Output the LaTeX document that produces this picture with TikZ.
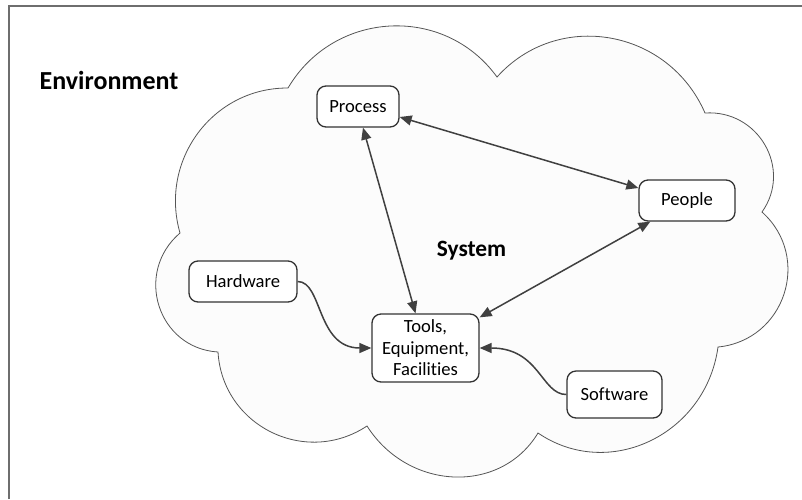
\documentclass[tikz,border=0pt]{standalone}
\usepackage{fontspec}
\setmainfont{Carlito}[Ligatures=NoCommon]
\usetikzlibrary{positioning}
\usetikzlibrary{arrows.meta}
\definecolor{edgegray}{HTML}{404040}
\definecolor{cloudline}{HTML}{555555}
\definecolor{cloudfill}{HTML}{FCFCFC}
\definecolor{framegray}{HTML}{6E6E6E}

\begin{document}
\begin{tikzpicture}[x=1pt,y=-1pt,
  part/.style={draw=black!80,line width=1.3pt,rounded corners=9pt,fill=white,font=\fontsize{18.6}{21.5}\selectfont,minimum height=41pt,inner sep=2pt,align=center},
  link/.style={draw=edgegray,line width=1.5pt,{Triangle[length=12pt,width=10pt]}-{Triangle[length=12pt,width=10pt]}},
  feed/.style={draw=edgegray,line width=1.5pt,-{Triangle[length=12pt,width=10pt]}}]
\useasboundingbox (0,0) rectangle (802,499);
\draw[framegray,line width=1.5pt] (9,499) -- (9,6) -- (802,6);
\draw[cloudline,fill=cloudfill,line width=0.8pt] (288,88) .. controls (334,10.1) and (444.4,4.3) .. (497,77)
  .. controls (557.7,9.4) and (668.3,28.6) .. (705,113)
  .. controls (758.4,109.5) and (792.6,168.9) .. (762,212)
  .. controls (812.3,257.2) and (785.1,340.4) .. (718,347)
  .. controls (705.9,434.8) and (608.7,481.2) .. (538,433)
  .. controls (500.7,494.7) and (408.3,490.9) .. (367,426)
  .. controls (305.2,466.9) and (222.4,425.7) .. (218,352)
  .. controls (157.8,348.3) and (133.6,272.7) .. (180,233)
  .. controls (159,160) and (213,87.6) .. (288,88) -- cycle;

\node[font=\fontsize{26}{30}\selectfont\bfseries] (env) at (109,80) {Environment};
\node[font=\fontsize{23.4}{27}\selectfont\bfseries] (sys) at (471.5,251) {System};

\node[part,minimum width=82pt] (proc) at (358,106.5) {Process};
\node[part,minimum width=96pt] (people) at (687,200.5) {People};
\node[part,minimum width=108pt] (hw) at (243,281.5) {Hardware};
\node[part,minimum width=107pt,minimum height=68pt] (tools) at (425.5,348) {Tools,\\Equipment,\\Facilities};
\node[part,minimum width=95pt,minimum height=47pt] (sw) at (614.5,394.5) {Software};

\draw[link] ([xshift=5pt]proc.south) -- ([xshift=-10pt]tools.north);
\draw[link] ([yshift=-10.5pt]proc.east) -- ([yshift=12.5pt]people.west);
\draw[link] ([xshift=12pt]people.south west) -- ([yshift=-4pt]tools.north east);
\draw[feed] (hw.east) .. controls +(25,0) and +(-55,0) .. (tools.west);
\draw[feed] (sw.west) .. controls +(-25,0) and +(60,0) .. (tools.east);

\end{tikzpicture}
\end{document}
